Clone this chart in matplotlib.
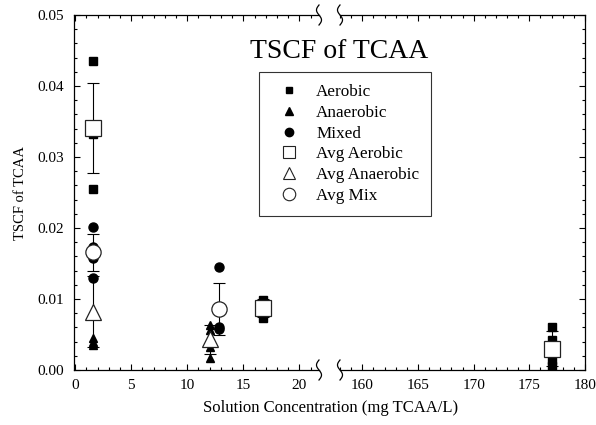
import numpy as np
import matplotlib
matplotlib.use('Agg')
import matplotlib.pyplot as plt
from matplotlib.lines import Line2D
from matplotlib.ticker import MultipleLocator, FormatStrFormatter

plt.rcParams['font.family'] = ['Liberation Serif', 'DejaVu Serif']

# ---- data ----
aer_x = [1.6, 1.6, 1.6, 16.8, 16.8, 177, 177, 177, 177]
aer_y = [0.0435, 0.0333, 0.0255, 0.0099, 0.0073, 0.0061, 0.0042, 0.0014, 0.0006]

ana_x = [1.6, 1.6, 1.6, 12.0, 12.0, 12.0, 12.0]
ana_y = [0.0045, 0.0039, 0.0035, 0.0064, 0.0057, 0.0033, 0.0017]

mix_x = [1.6, 1.6, 1.6, 1.6, 12.8, 12.8, 12.8]
mix_y = [0.0201, 0.0173, 0.0158, 0.0130, 0.0145, 0.0061, 0.0058]

avg_aer_x = [1.6, 16.8, 177]
avg_aer_y = [0.0341, 0.0087, 0.0030]
avg_aer_err = [0.0063, 0.0013, 0.0025]

avg_ana_x = [1.6, 12.0]
avg_ana_y = [0.0082, 0.0043]
avg_ana_err = [0.0050, 0.0020]

avg_mix_x = [1.6, 12.8]
avg_mix_y = [0.0166, 0.0086]
avg_mix_err = [0.0026, 0.0036]

W, H = 596, 425
fig = plt.figure(figsize=(W / 100, H / 100), dpi=100)

x_l0, x_l1, x_r0, x_r1 = 74, 319, 340, 585
y_top, y_bot = 15, 370
ax1 = fig.add_axes([x_l0 / W, 1 - y_bot / H, (x_l1 - x_l0) / W, (y_bot - y_top) / H])
ax2 = fig.add_axes([x_r0 / W, 1 - y_bot / H, (x_r1 - x_r0) / W, (y_bot - y_top) / H])

for ax in (ax1, ax2):
    ax.plot(aer_x, aer_y, 's', color='black', ms=5.5, zorder=3)
    ax.plot(ana_x, ana_y, '^', color='black', ms=6, zorder=3)
    ax.plot(mix_x, mix_y, 'o', color='black', ms=6.5, zorder=3)
    for xs, ys, es, mk, ms in [(avg_aer_x, avg_aer_y, avg_aer_err, 's', 11),
                               (avg_ana_x, avg_ana_y, avg_ana_err, '^', 11),
                               (avg_mix_x, avg_mix_y, avg_mix_err, 'o', 11)]:
        ax.errorbar(xs, ys, yerr=es, fmt='none', ecolor='black', elinewidth=0.8,
                    capsize=4, capthick=0.8, zorder=4)
        ax.plot(xs, ys, mk, ms=ms, mfc='white', mec='#222222', mew=0.9, zorder=5)
    ax.set_ylim(0, 0.05)
    ax.yaxis.set_major_locator(MultipleLocator(0.01))
    ax.yaxis.set_minor_locator(MultipleLocator(0.002))
    ax.xaxis.set_major_locator(MultipleLocator(5))
    ax.xaxis.set_minor_locator(MultipleLocator(1))
    ax.tick_params(which='both', direction='in', top=True, labelsize=11, width=0.8)
    ax.tick_params(which='major', length=4)
    ax.tick_params(which='minor', length=2)
    ax.tick_params(axis='x', which='both', pad=6.5)
    ax.tick_params(axis='y', which='both', pad=7)
    for s in ax.spines.values():
        s.set_linewidth(0.9)

ax1.set_xlim(-0.1, 21.75)
ax2.set_xlim(158.0, 180)
ax1.spines['right'].set_visible(False)
ax2.spines['left'].set_visible(False)
ax1.tick_params(which='both', right=False)
ax2.tick_params(which='both', left=False, right=True, labelleft=False)
ax1.yaxis.set_major_formatter(FormatStrFormatter('%.2f'))
ax1.set_ylabel('TSCF of TCAA', fontsize=10.5, labelpad=8)

fig.text(331 / W, 1 - 408 / H, 'Solution Concentration (mg TCAA/L)',
         ha='center', va='center', fontsize=12)
fig.text(339 / W, 1 - 52 / H, 'TSCF of TCAA', ha='center', va='center', fontsize=20)

# axis-break squiggles
t = np.linspace(-1, 1, 40)
for xb in (x_l1, x_r0):
    for yb in (y_top, y_bot):
        xs = (xb + 2.5 * np.sin(np.pi * t)) / W
        ys = 1 - (yb + 10 * t) / H
        fig.add_artist(Line2D(xs, ys, color='black', lw=0.9))

handles = [
    Line2D([], [], ls='none', marker='s', color='black', ms=5),
    Line2D([], [], ls='none', marker='^', color='black', ms=5.5),
    Line2D([], [], ls='none', marker='o', color='black', ms=6),
    Line2D([], [], ls='none', marker='s', mfc='white', mec='#222222', mew=0.8, ms=8),
    Line2D([], [], ls='none', marker='^', mfc='white', mec='#222222', mew=0.8, ms=8),
    Line2D([], [], ls='none', marker='o', mfc='white', mec='#222222', mew=0.8, ms=9),
]
labels = ['Aerobic', 'Anaerobic', 'Mixed', 'Avg Aerobic', 'Avg Anaerobic', 'Avg Mix']
leg = fig.legend(handles, labels, loc='upper left',
                 bbox_to_anchor=(259 / W, 1 - 72 / H), bbox_transform=fig.transFigure,
                 borderaxespad=0, fontsize=12.3, frameon=True, fancybox=False,
                 edgecolor='black', labelspacing=0.28, handlelength=2.1,
                 handletextpad=0.55, borderpad=0.7)
leg.get_frame().set_linewidth(0.8)

fig.savefig('out.png', dpi=100)
